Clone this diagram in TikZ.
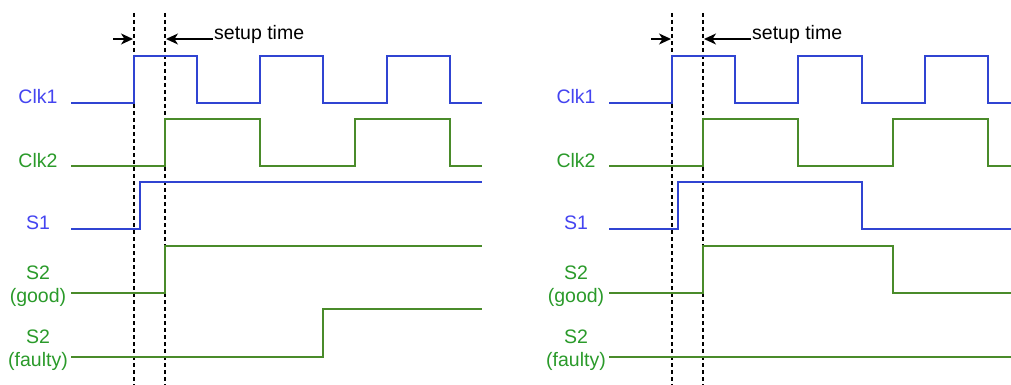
\documentclass[tikz,border=0pt]{standalone}
\usepackage{fontspec}
\setmainfont{Liberation Sans}
\usetikzlibrary{arrows.meta}
\definecolor{sigblue}{HTML}{3044D2}
\definecolor{siggreen}{HTML}{4A8B2A}
\definecolor{txtblue}{HTML}{4444F0}
\definecolor{txtgreen}{HTML}{2A9A2A}
\tikzset{
  bluesig/.style={draw=sigblue, line width=2pt},
  greensig/.style={draw=siggreen, line width=2pt},
  guide/.style={draw=black, line width=1.2pt, dash pattern=on 4pt off 3pt},
  lbl/.style={font=\fontsize{19.5}{23.5}\selectfont, align=center, inner sep=0pt},
  lblblue/.style={lbl, text=txtblue},
  lblgreen/.style={lbl, text=txtgreen},
  dimarrow/.style={draw=black, line width=1.4pt, -{Stealth[length=12pt,width=11pt,inset=3.5pt]}}
}
\newcommand{\panelcommon}[1]{%
  \node[lblblue]  (#1clk1) at (38,97)  {Clk1};
  \node[lblgreen] (#1clk2) at (38,161) {Clk2};
  \node[lblblue]  (#1s1)   at (38,223) {S1};
  \node[lblgreen] (#1s2g)  at (38,286) {S2\\(good)};
  \node[lblgreen] (#1s2f)  at (38,350) {S2\\(faulty)};
  \coordinate (#1dA1) at (134,13);  \coordinate (#1dA2) at (134,385);
  \coordinate (#1dB1) at (165,13);  \coordinate (#1dB2) at (165,385);
  \draw[guide] (#1dA1) -- (#1dA2);
  \draw[guide] (#1dB1) -- (#1dB2);
  \coordinate (#1aL) at (113,39); \coordinate (#1aLt) at (133,39);
  \coordinate (#1aR) at (213,39); \coordinate (#1aRt) at (166,39);
  \draw[dimarrow] (#1aL) -- (#1aLt);
  \draw[dimarrow] (#1aR) -- (#1aRt);
  \node[lbl, anchor=west] (#1setup) at (214,34) {setup time};
}
\begin{document}
\begin{tikzpicture}[x=1pt, y=-1pt]
\useasboundingbox (0,0) rectangle (1011,385);
% left panel
\begin{scope}
\panelcommon{L}
\draw[bluesig] (71,103) -| (134,56) -| (197,103) -| (260,56) -| (323,103) -| (387,56) -| (450,103) -- (482,103);
\draw[greensig] (71,166) -| (165,119) -| (260,166) -| (355,119) -| (450,166) -- (482,166);
\draw[bluesig] (71,229) -| (140,182) -- (482,182);
\draw[greensig] (71,293) -| (165,246) -- (482,246);
\draw[greensig] (71,357) -| (323,309) -- (482,309);
\end{scope}
% right panel
\begin{scope}[xshift=538pt]
\panelcommon{R}
\draw[bluesig] (71,103) -| (134,56) -| (197,103) -| (260,56) -| (324,103) -| (387,56) -| (450,103) -- (473,103);
\draw[greensig] (71,166) -| (165,119) -| (260,166) -| (355,119) -| (450,166) -- (473,166);
\draw[bluesig] (71,229) -| (140,182) -| (324,229) -- (473,229);
\draw[greensig] (71,293) -| (165,246) -| (355,293) -- (473,293);
\draw[greensig] (71,357) -- (473,357);
\end{scope}
\end{tikzpicture}
\end{document}
